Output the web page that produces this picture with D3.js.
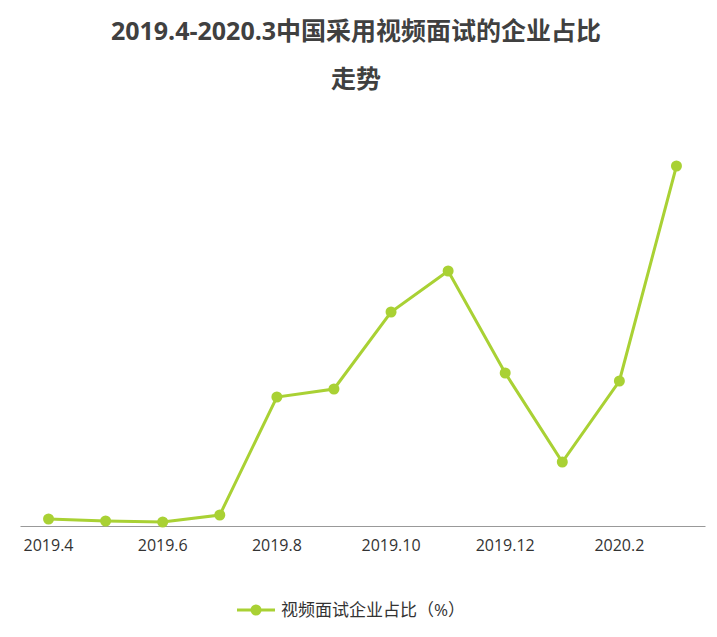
<!DOCTYPE html>
<html><head><meta charset="utf-8">
<script src="https://cdn.jsdelivr.net/npm/d3@7"></script>
<style>body{margin:0;background:#fff}svg{font-family:"Open Sans","Noto Sans CJK SC",sans-serif}</style>
</head><body><div id="chart"></div>
<script>
const months = ['2019.4','2019.5','2019.6','2019.7','2019.8','2019.9','2019.10','2019.11','2019.12','2020.1','2020.2','2020.3'];
const shares = [0.7,0.5,0.4,1.1,12.9,13.7,21.4,25.5,15.3,6.4,14.5,36.0];
const tickLabels = ['2019.4','2019.6','2019.8','2019.10','2019.12','2020.2'];
const seriesName = '视频面试企业占比（%）';
const color = '#a9d134';

const width = 717, height = 637;
const svg = d3.select('#chart').append('svg').attr('width', width).attr('height', height);

svg.append('text').attr('x', 356).attr('y', 40).attr('text-anchor', 'middle')
  .attr('font-size', 25).attr('font-weight', 'bold').attr('fill', '#404040')
  .text('2019.4-2020.3中国采用视频面试的企业占比');
svg.append('text').attr('x', 356).attr('y', 88).attr('text-anchor', 'middle')
  .attr('font-size', 25).attr('font-weight', 'bold').attr('fill', '#404040')
  .text('走势');

const x = d3.scaleBand().domain(months).range([20, 705]);
const y = d3.scaleLinear().domain([0, 36]).range([526, 166]);
const cx = d => x(d) + x.bandwidth() / 2;

const ax = svg.append('g').attr('transform', 'translate(0,526)')
  .call(d3.axisBottom(x).tickValues(tickLabels).tickSize(0).tickPadding(14));
ax.select('.domain').attr('stroke', '#999');
ax.selectAll('text').attr('font-size', 16).attr('fill', '#333')
  .attr('font-family', '"Open Sans",sans-serif');

const data = months.map((m, i) => ({ m, v: shares[i] }));
svg.append('path').datum(data)
  .attr('fill', 'none').attr('stroke', color).attr('stroke-width', 3)
  .attr('d', d3.line().x(d => cx(d.m)).y(d => y(d.v)));
svg.selectAll('circle.pt').data(data).enter().append('circle')
  .attr('class', 'pt').attr('cx', d => cx(d.m)).attr('cy', d => y(d.v))
  .attr('r', 5.5).attr('fill', color);

const lg = svg.append('g');
lg.append('line').attr('x1', 237).attr('x2', 275).attr('y1', 610).attr('y2', 610)
  .attr('stroke', color).attr('stroke-width', 3);
lg.append('circle').attr('cx', 256).attr('cy', 610).attr('r', 5.5).attr('fill', color);
lg.append('text').attr('x', 281).attr('y', 616).attr('font-size', 17).attr('fill', '#333')
  .text(seriesName);
</script></body></html>
